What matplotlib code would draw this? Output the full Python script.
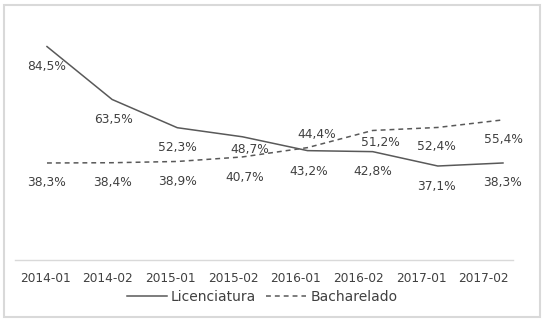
import numpy as np
from matplotlib import pyplot as plt
from matplotlib.patches import Rectangle

periods = ['2014-01', '2014-02', '2015-01', '2015-02',
           '2016-01', '2016-02', '2017-01', '2017-02']
licenciatura = [84.5, 63.5, 52.3, 48.7, 43.2, 42.8, 37.1, 38.3]
bacharelado = [38.3, 38.4, 38.9, 40.7, 44.4, 51.2, 52.4, 55.4]

# label offsets in pixels (dx, dy), negative dy = below the point
lic_off = [(0, -20), (1, -20), (0, -20), (7, -13), (1, -21), (0, -20), (-1, -20), (0, -20)]
bac_off = [(0, -20), (0, -20), (0, -20), (2, -21), (9, 13), (8, -12), (-1, -19), (0, -20)]

TXT = '#404040'
LINE = '#595959'


def fmt(v):
    return ('%.1f%%' % v).replace('.', ',')


def main():
    plt.rcParams['font.family'] = ['DejaVu Sans']
    fig = plt.figure(figsize=(5.46, 3.24), dpi=100)
    W, H = 546, 324
    ax = fig.add_axes([15 / W, (H - 259.5) / H, 498 / W, 252 / H])

    x = np.arange(len(periods))
    ax.plot(x, licenciatura, color=LINE, lw=1.1, label='Licenciatura')
    ax.plot(x, bacharelado, color=LINE, lw=1.1, dashes=(3.2, 2.6), label='Bacharelado')

    for i, v in enumerate(licenciatura):
        ax.annotate(fmt(v), (x[i], v), xytext=lic_off[i], textcoords='offset pixels',
                    ha='center', va='center', fontsize=8.8, color=TXT)
    for i, v in enumerate(bacharelado):
        ax.annotate(fmt(v), (x[i], v), xytext=bac_off[i], textcoords='offset pixels',
                    ha='center', va='center', fontsize=8.8, color=TXT)

    ax.set_xlim(-0.491, 7.154)
    ax.set_ylim(0, 100)
    ax.set_yticks([])
    ax.set_xticks(x * 0.962 - 0.03)
    ax.set_xticklabels(periods, fontsize=8.7, color=TXT)
    ax.tick_params(axis='x', length=0, pad=9)
    for s in ['top', 'left', 'right']:
        ax.spines[s].set_visible(False)
    ax.spines['bottom'].set_color('#d9d9d9')
    ax.spines['bottom'].set_linewidth(1)

    leg = fig.legend(loc='center', bbox_to_anchor=(262 / W, (H - 297) / H), ncol=2,
                     frameon=False, fontsize=10, handlelength=2.9, handletextpad=0.3,
                     columnspacing=0.7)
    for t in leg.get_texts():
        t.set_color(TXT)

    fig.patches.append(Rectangle((4 / W, (H - 317) / H), 536 / W, 312 / H,
                                 transform=fig.transFigure, fill=False,
                                 edgecolor='#d9d9d9', lw=1.5))
    fig.savefig('out.png', dpi=100)


if __name__ == "__main__":
    main()
